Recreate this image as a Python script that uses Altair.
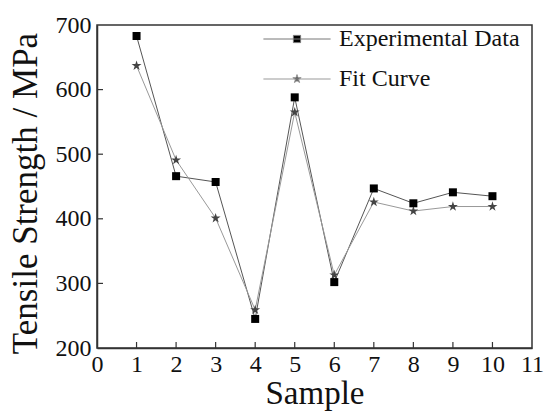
import altair as alt
import pandas as pd

samples = [1, 2, 3, 4, 5, 6, 7, 8, 9, 10]
experimental = [683, 466, 457, 245, 588, 302, 447, 424, 441, 435]
fit_curve = [637, 491, 401, 259, 565, 313, 426, 412, 419, 419]
series_names = ["Experimental Data", "Fit Curve"]
x_labels = [0, 1, 2, 3, 4, 5, 6, 7, 8, 9, 10, 11]
y_labels = [200, 300, 400, 500, 600, 700]
x_ticks = [1, 2, 3, 4, 5, 6, 7, 8, 9, 10]
y_ticks = [300, 400, 500, 600]

FONT = "Liberation Serif"
STAR = ("M0,-1.1L0.247,-0.34L1.046,-0.34L0.4,0.13L0.647,0.89L0,0.42"
        "L-0.647,0.89L-0.4,0.13L-1.046,-0.34L-0.247,-0.34Z")
LEG_SQUARE = "M-8.4,0H8.4M-0.9,-0.9H0.9V0.9H-0.9Z"
LEG_STAR = ("M-8.4,0H8.4M0,-1.1L0.247,-0.34L1.046,-0.34L0.4,0.13L0.647,0.89L0,0.42"
            "L-0.647,0.89L-0.4,0.13L-1.046,-0.34L-0.247,-0.34Z")

df = pd.DataFrame({
    "sample": samples * 2,
    "value": experimental + fit_curve,
    "series": [series_names[0]] * len(samples) + [series_names[1]] * len(samples),
})
exp_df = df[df.series == series_names[0]]
fit_df = df[df.series == series_names[1]]

W, H = 435, 323

xs = alt.Scale(domain=[0, 11], nice=False)
ys = alt.Scale(domain=[200, 700], nice=False)

x_axis = alt.Axis(values=x_labels, title="Sample", ticks=False,
                  grid=False, labelFont=FONT, labelFontSize=24, labelColor="#111",
                  labelPadding=4, labelOverlap=False, titleFont=FONT, titleFontSize=33,
                  titleFontWeight="normal", titleColor="#111", titlePadding=1,
                  domainColor="#333", domainWidth=1.5, labelFlush=False)
y_axis = alt.Axis(values=y_labels,
                  title="Tensile Strength / MPa", ticks=False, grid=False,
                  labelFont=FONT, labelFontSize=24, labelColor="#111",
                  labelPadding=6, labelOverlap=False, titleFont=FONT, titleFontSize=35,
                  titleFontWeight="normal", titleColor="#111", titlePadding=12,
                  titleY=168, domainColor="#333", domainWidth=1.5, labelFlush=False)

base_x = alt.X("sample:Q", scale=xs, axis=x_axis)
base_y = alt.Y("value:Q", scale=ys, axis=y_axis)

exp_line = alt.Chart(exp_df).mark_line(color="#555", strokeWidth=1).encode(x=base_x, y=base_y)
fit_line = alt.Chart(fit_df).mark_line(color="#999", strokeWidth=1).encode(x=base_x, y=base_y)
exp_pts = alt.Chart(exp_df).mark_point(shape="square", filled=True, color="#000",
                                       size=64, opacity=1).encode(x=base_x, y=base_y)
fit_pts = alt.Chart(fit_df).mark_point(shape=STAR, filled=True, color="#444",
                                       size=90, opacity=1).encode(x=base_x, y=base_y)

xt = alt.Chart(pd.DataFrame({"t": x_ticks})).mark_rule(color="#333", strokeWidth=1.2).encode(
    x=alt.X("t:Q", scale=xs, axis=x_axis), y=alt.value(H), y2=alt.value(H - 6))
yt = alt.Chart(pd.DataFrame({"t": y_ticks})).mark_rule(color="#333", strokeWidth=1.2).encode(
    y=alt.Y("t:Q", scale=ys, axis=y_axis), x=alt.value(0), x2=alt.value(6))

legend = alt.Legend(title=None, orient="none", legendX=188, legendY=2,
                    labelFont=FONT, labelFontSize=24, labelColor="#111",
                    labelOffset=30, symbolSize=64, symbolStrokeWidth=1,
                    rowPadding=16, padding=0, labelLimit=400)
dummy = alt.Chart(df).transform_filter("false").mark_point(opacity=1).encode(
    x=base_x,
    y=base_y,
    shape=alt.Shape("series:N", scale=alt.Scale(domain=series_names, range=[LEG_SQUARE, LEG_STAR]),
                    legend=legend),
    fill=alt.Fill("series:N", scale=alt.Scale(domain=series_names, range=["#000", "#444"]),
                  legend=legend),
    stroke=alt.Stroke("series:N", scale=alt.Scale(domain=series_names, range=["#777", "#999"]),
                      legend=legend),
)

chart = alt.layer(exp_line, fit_line, fit_pts, exp_pts, xt, yt, dummy).properties(
    width=W, height=H,
    autosize=alt.AutoSizeParams(type="none"),
    padding={"left": 97, "top": 25, "right": 13, "bottom": 64},
    background="white",
).configure(font=FONT).configure_view(stroke="#333", strokeWidth=1.5).configure_axis(
    labelFont=FONT, labelFontSize=24, labelOverlap=False, titleFont=FONT,
).configure_legend(
    labelFont=FONT, labelFontSize=24, labelColor="#111", labelLimit=400,
    labelOffset=30, rowPadding=16, symbolStrokeWidth=1, padding=0,
)

chart.save("out.html", embed_options={"renderer": "svg", "actions": False})
